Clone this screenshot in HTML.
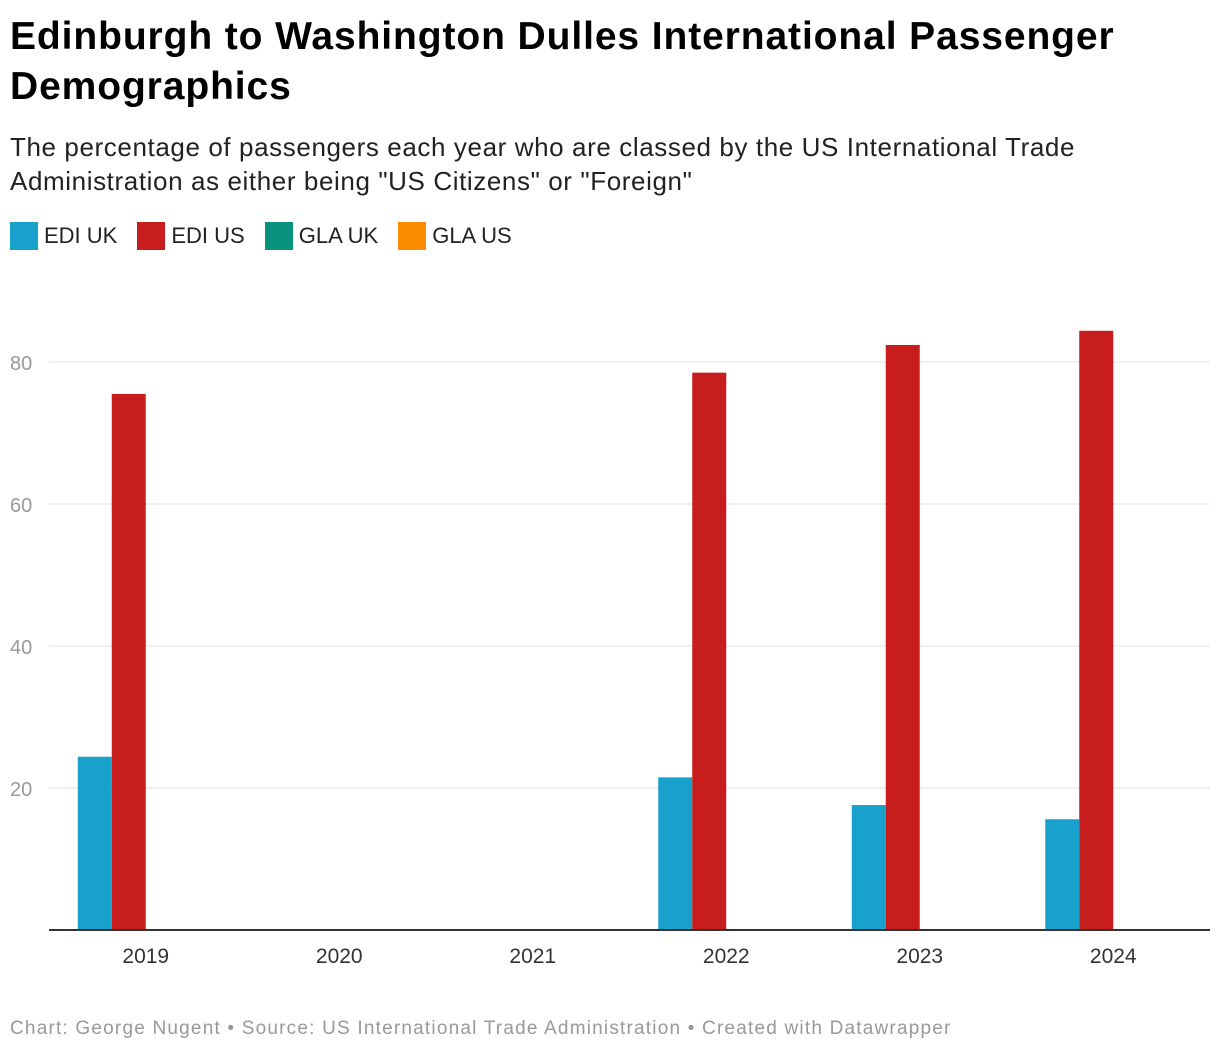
<!DOCTYPE html>
<html><head><meta charset="utf-8">
<style>
body{margin:0;background:#fff;width:1220px;height:1052px;overflow:hidden;font-family:"Liberation Sans",sans-serif;}
#title{position:absolute;left:10px;top:12px;font-size:39px;font-weight:bold;line-height:50px;color:#000;width:1210px;letter-spacing:0.9px}
#sub{position:absolute;left:10px;top:130px;font-size:26px;line-height:34px;color:#222;width:1100px;letter-spacing:0.6px}
#legend{position:absolute;left:10px;top:222px;display:flex;font-size:22px;color:#222}
.li{display:flex;align-items:center;margin-right:20px}
.sw{width:28px;height:28px;margin-right:6px}
#foot{position:absolute;left:10px;top:1018px;font-size:19px;color:#999;letter-spacing:1.2px;white-space:nowrap}
svg{position:absolute;left:0;top:0}
</style></head><body>
<div id="title">Edinburgh to Washington Dulles International Passenger Demographics</div>
<div id="sub">The percentage of passengers each year who are classed by the US International Trade Administration as either being "US Citizens" or "Foreign"</div>
<div id="legend">
<div class="li"><div class="sw" style="background:#18a1cd"></div>EDI UK</div>
<div class="li"><div class="sw" style="background:#c71e1d"></div>EDI US</div>
<div class="li"><div class="sw" style="background:#09937e"></div>GLA UK</div>
<div class="li"><div class="sw" style="background:#fa8c00"></div>GLA US</div>
</div>
<svg id="chart" width="1220" height="1052"></svg>
<div id="foot">Chart: George Nugent • Source: US International Trade Administration • Created with Datawrapper</div>
<script>
const categories=["2019","2020","2021","2022","2023","2024"];
const ediUK=[24.4,null,null,21.5,17.6,15.6];
const ediUS=[75.5,null,null,78.5,82.4,84.4];
const glaUK=[null,null,null,null,null,null];
const glaUS=[null,null,null,null,null,null];
const yTicks=[20,40,60,80];
const series=[{n:"edi-uk",v:ediUK,c:"#18a1cd"},{n:"edi-us",v:ediUS,c:"#c71e1d"},{n:"gla-uk",v:glaUK,c:"#09937e"},{n:"gla-us",v:glaUS,c:"#fa8c00"}];
const X0=49,X1=1210,Y0=930,PPU=7.1;
const y=v=>Y0-v*PPU;
const step=(X1-X0)/categories.length;
const cx=i=>X0+step*(i+0.5);
const bw=34;
const svg=document.getElementById('chart');
const NS="http://www.w3.org/2000/svg";
function mk(t,a){const e=document.createElementNS(NS,t);for(const k in a)e.setAttribute(k,a[k]);svg.appendChild(e);return e;}
yTicks.forEach(t=>{
 const l=mk('line',{x1:X0,x2:X1,y1:y(t),y2:y(t),stroke:'#e0e0e0','stroke-width':1});
 
 
 const tx=mk('text',{x:10,y:y(t)+8,'font-size':20,fill:'#999','font-family':'Liberation Sans, sans-serif'});
 tx.textContent=t;
 
 
});
categories.forEach((c,i)=>{
 series.forEach((s,j)=>{
  const v=s.v[i]; if(v==null)return;
  const r=mk('rect',{x:cx(i)-2*bw+j*bw,y:y(v),width:bw,height:v*PPU,fill:s.c});
  
  
 });
 const tx=mk('text',{x:cx(i),y:963,'font-size':21,fill:'#333','text-anchor':'middle','font-family':'Liberation Sans, sans-serif'});
 tx.textContent=c;
 
 
});
const ax=mk('line',{x1:X0,x2:X1,y1:Y0,y2:Y0,stroke:'#333','stroke-width':2});


</script>
</body></html>
